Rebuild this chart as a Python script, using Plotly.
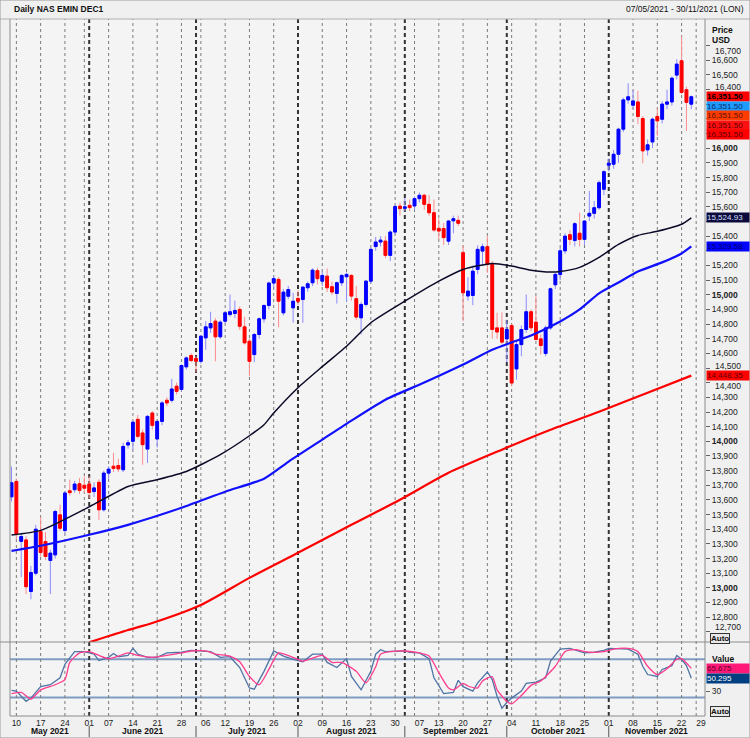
import plotly.graph_objects as go
import pandas as pd

FONT = "Liberation Sans"
FS = 8.5

# ---------------- calendar (trading days shown on the axis) ----------------
holidays = ["2021-05-31", "2021-07-05", "2021-09-06", "2021-11-25"]
axis_days = [d.strftime("%Y-%m-%d") for d in pd.bdate_range("2021-05-07", "2021-11-30")
             if d.strftime("%Y-%m-%d") not in holidays]
pos = {d: i for i, d in enumerate(axis_days)}

# ---------------- daily OHLC (NAS EMIN DEC1) ----------------
opens = [13621,13726,13317,13327,12975,13100,13384,13316,13187,13225,
         13498,13391,13662,13670,13710,13700,13708,13657,13720,13533,
         13783,13830,13835,13806,13975,14000,14150,14057,13947,14193,
         14016,14136,14280,14280,14376,14354,14508,14585,14565,14546,
         14706,14774,14820,14713,14820,14865,14872,14900,14781,14683,
         14592,14729,14836,14927,15080,15105,14877,14990,14911,14975,
         14968,15048,15082,15165,15093,15127,15055,15009,15082,15123,
         15132,14973,14843,14934,15093,15329,15360,15366,15269,15428,
         15605,15590,15610,15606,15656,15679,15617,15560,15453,15452,
         15366,15505,15508,15287,14992,14995,15173,15298,15328,15207,
         14774,14774,14699,14790,14494,14660,14763,14884,14813,14699,
         14599,14774,15068,15139,15300,15410,15370,15420,15378,15537,
         15556,15594,15720,15884,15891,15959,16130,16330,16294,16316,
         16203,15989,16043,16217,16198,16301,16316,16499,16597,16399,
         16301]
highs = [13827,13745,13375,13352,13150,13430,13483,13380,13260,13533,
         13567,13660,13738,13730,13749,13760,13760,13720,13740,13800,
         13830,13922,13880,13990,14010,14140,14180,14080,14180,14205,
         14140,14275,14300,14426,14400,14525,14580,14600,14580,14725,
         14820,14884,14840,14825,14885,15002,14960,14920,14850,14700,
         14740,14845,14935,15090,15130,15120,15040,15060,15014,15030,
         15060,15090,15180,15185,15160,15180,15090,15090,15140,15150,
         15140,15060,14950,15100,15320,15395,15400,15400,15440,15615,
         15630,15660,15650,15670,15697,15690,15680,15650,15520,15490,
         15510,15540,15540,15337,15120,15200,15337,15350,15400,15230,
         14877,14880,14830,14800,14680,14790,15002,14900,14990,14730,
         14790,15050,15150,15320,15420,15440,15495,15560,15510,15708,
         15640,15780,15850,15930,15990,16140,16345,16443,16396,16392,
         16220,16060,16210,16271,16320,16399,16490,16608,16765,16420,
         16360]
lows = [13589,13330,13073,12958,12922,13085,13213,13190,12958,13200,
        13390,13370,13630,13650,13640,13650,13610,13620,13464,13520,
        13740,13790,13790,13790,13950,13943,14020,13840,13852,14080,
        13958,14110,14240,14265,14320,14340,14490,14540,14471,14530,
        14625,14740,14546,14700,14800,14850,14840,14760,14660,14444,
        14540,14700,14810,14900,15040,14778,14860,14970,14809,14930,
        14809,15020,15060,15070,15060,15020,15000,14940,15060,14950,
        14960,14830,14729,14920,15080,15300,15330,15250,15230,15410,
        15540,15570,15570,15580,15630,15580,15540,15430,15380,15340,
        15340,15420,15470,14820,14960,14929,15140,15200,15150,14700,
        14700,14660,14539,14376,14421,14580,14740,14750,14690,14592,
        14580,14760,15040,15100,15280,15340,15330,15330,15340,15503,
        15520,15580,15680,15840,15860,15900,16110,16303,16267,16164,
        15897,15950,16000,16084,16170,16267,16290,16470,16370,16118,
        16267]
closes = [13717,13367,13350,13008,13105,13400,13241,13214,13237,13521,
          13407,13647,13650,13708,13665,13680,13651,13682,13533,13783,
          13810,13815,13812,13965,13990,14130,14034,13977,14170,14109,
          14136,14262,14262,14357,14341,14517,14569,14551,14546,14717,
          14781,14804,14713,14813,14877,14884,14893,14785,14672,14546,
          14729,14836,14927,15080,15110,14956,15018,15036,14956,14956,
          15052,15075,15168,15110,15132,15048,15019,15082,15132,15139,
          14991,14848,14934,15093,15310,15360,15373,15269,15428,15602,
          15588,15600,15595,15656,15679,15617,15560,15442,15435,15390,
          15503,15519,15488,15014,15025,15161,15310,15328,15207,14763,
          14746,14677,14763,14398,14660,14763,14884,14775,14695,14654,
          14774,15041,15139,15300,15400,15378,15485,15378,15503,15556,
          15594,15765,15840,15898,15959,16130,16330,16351,16323,16217,
          15982,16023,16198,16187,16301,16316,16478,16574,16381,16313,
          16351.5]
candle_dates = axis_days[:len(opens)]

# ---------------- moving averages (read at sample dates) ----------------
ma_black_dates = ["2021-05-07","2021-05-17","2021-06-01","2021-06-11","2021-06-21","2021-06-29",
                  "2021-07-09","2021-07-19","2021-07-22","2021-07-26","2021-08-02","2021-08-09",
                  "2021-08-16","2021-08-23","2021-09-01","2021-09-13","2021-09-20","2021-09-28",
                  "2021-10-04","2021-10-08","2021-10-14","2021-10-18","2021-10-22","2021-10-28",
                  "2021-11-03","2021-11-09","2021-11-15","2021-11-22","2021-11-24"]
ma_black = [13360,13392,13553,13692,13738,13794,13909,14038,14113,14193,14366,14510,
            14649,14809,14956,15093,15173,15214,15196,15168,15155,15159,15187,15255,
            15344,15405,15433,15481,15524.93]
ma_blue_dates = ["2021-05-07","2021-05-17","2021-06-01","2021-06-11","2021-06-28","2021-07-12",
                 "2021-07-22","2021-07-29","2021-08-09","2021-08-17","2021-08-26","2021-09-08",
                 "2021-09-20","2021-09-28","2021-10-04","2021-10-08","2021-10-18","2021-10-22",
                 "2021-10-28","2021-11-03","2021-11-09","2021-11-16","2021-11-22","2021-11-24"]
ma_blue = [13252,13287,13362,13430,13546,13656,13745,13860,14011,14141,14284,14401,
           14524,14625,14675,14722,14818,14900,15010,15084,15159,15221,15282,15329.58]
ma_red_dates = ["2021-06-01","2021-06-11","2021-06-18","2021-07-02","2021-07-19","2021-08-02",
                "2021-08-17","2021-08-31","2021-09-15","2021-09-30","2021-10-14","2021-10-28",
                "2021-11-11","2021-11-24"]
ma_red = [12628,12712,12760,12883,13068,13239,13430,13601,13785,13943,14079,14202,14332,14448.35]

# ---------------- stochastic oscillator (read at sample dates) ----------------
k_idx = [0,1,3,4,6,8,10,11,13,15,17,18,20,21,22,24,25,26,28,30,32,35,37,39,41,43,45,47,49,50,
         52,54,56,58,60,62,64,65,67,69,70,72,74,75,76,77,79,81,82,84,86,87,89,91,92,93,95,96,98,99,
         100,101,102,103,105,106,108,110,111,113,115,116,118,120,122,123,125,127,129,130,131,133,
         134,136,137,138,139,140]
k_vals = [31,30,14,19,37,40,51,72,92,92,88,78,83,89,84,86,97,88,83,83,90,91,94,93,92,83,84,67,35,33,
          61,93,85,80,76,88,88,75,67,81,53,32,61,88,95,92,92,93,91,90,81,51,26,28,47,37,30,43,60,48,
          22,3,12,19,30,42,44,51,77,96,97,95,90,91,94,97,96,96,88,69,56,53,
          64,70,86,80,70,50.295]
d_idx = [0,2,4,6,9,11,12,14,16,18,20,22,24,26,29,32,35,37,40,42,45,47,49,51,53,55,58,60,64,66,
         68,71,73,75,76,78,81,84,86,88,90,91,93,94,96,97,99,100,102,103,105,107,109,112,114,116,
         119,122,124,127,129,131,133,135,137,138,140]
d_vals = [26,28,17.5,32,40,48,75,90,92,86,81,85,90,86,83,86,90,93,93,88,85,76,53,40,64,90,83,77,86,75,
          75,61,43,68,88,92,93,90,85,59,35,32,42,38,35,46,52.5,32,14,10,23,39,46,69,92,95,
          91,92,96,97,92,69,56,65,80,81,65.675]

# ---------------- axis labels ----------------
tick_dates = ["2021-05-10","2021-05-17","2021-05-24","2021-06-01","2021-06-07","2021-06-14","2021-06-21",
              "2021-06-28","2021-07-06","2021-07-12","2021-07-19","2021-07-26","2021-08-02","2021-08-09",
              "2021-08-16","2021-08-23","2021-08-30","2021-09-07","2021-09-13","2021-09-20","2021-09-27",
              "2021-10-04","2021-10-11","2021-10-18","2021-10-25","2021-11-01","2021-11-08","2021-11-15",
              "2021-11-22","2021-11-29"]
tick_text = [d[-2:] for d in tick_dates]
week_line_dates = ["2021-05-10","2021-05-17","2021-05-24","2021-05-28","2021-06-07","2021-06-14",
                   "2021-06-21","2021-06-28","2021-07-02","2021-07-12","2021-07-19","2021-07-26",
                   "2021-08-09","2021-08-16","2021-08-23","2021-08-30","2021-09-03","2021-09-13",
                   "2021-09-20","2021-09-27","2021-10-04","2021-10-11","2021-10-18","2021-10-25",
                   "2021-11-08","2021-11-15","2021-11-22","2021-11-26"]
month_start_dates = ["2021-06-01","2021-07-01","2021-08-02","2021-09-01","2021-10-01","2021-11-01"]
month_names = ["May 2021","June 2021","July 2021","August 2021","September 2021","October 2021","November 2021"]
price_ticks = list(range(12700, 16701, 100))
# tick labels hidden behind the value boxes on the price scale (tick marks stay)
price_ticks_hidden = [16300, 16200, 16100, 15500, 15300]
# tick labels nudged clear of neighbouring captions (value -> pixel row of the label)
price_ticks_nudged = {16700: 51, 16400: 87, 14500: 366, 14400: 386, 12700: 627}

# ---------------- geometry (pixels of the 750x738 page) ----------------
W, H = 750, 738
X_LEFT, X_RIGHT = 10, 705
Y_TOP, Y_MAIN_BOT, Y_OSC_BOT = 19, 642, 716
XR = [-0.31, 142.82]
py = lambda px: 1 - px / H
px_ = lambda p: p / W

fig = go.Figure()

x_c = [pos[d] for d in candle_dates]
fig.add_trace(go.Candlestick(
    x=x_c, open=opens, high=highs, low=lows, close=closes,
    increasing=dict(line=dict(color="#8c8cff", width=1), fillcolor="#8c8cff"),
    decreasing=dict(line=dict(color="#ff8c8c", width=1), fillcolor="#ff8c8c"),
    whiskerwidth=0, hoverinfo="skip", showlegend=False))
fig.add_trace(go.Candlestick(
    x=x_c, open=opens, close=closes,
    high=[max(o, c) for o, c in zip(opens, closes)],
    low=[min(o, c) for o, c in zip(opens, closes)],
    increasing=dict(line=dict(color="#0000ff", width=1), fillcolor="#0000ff"),
    decreasing=dict(line=dict(color="#ff0000", width=1), fillcolor="#ff0000"),
    whiskerwidth=0, hoverinfo="skip", showlegend=False))

for dates, vals, col, wd in [(ma_red_dates, ma_red, "#ff0000", 2.2),
                             (ma_blue_dates, ma_blue, "#1010ff", 2.2),
                             (ma_black_dates, ma_black, "#0a0a28", 1.5)]:
    fig.add_trace(go.Scatter(x=[pos[d] for d in dates], y=vals, mode="lines",
                             line=dict(color=col, width=wd, shape="spline", smoothing=0.6),
                             hoverinfo="skip", showlegend=False))

fig.add_trace(go.Scatter(x=k_idx, y=k_vals, mode="lines", yaxis="y2",
                         line=dict(color="#4f74a6", width=1.3), hoverinfo="skip", showlegend=False))
fig.add_trace(go.Scatter(x=d_idx, y=d_vals, mode="lines", yaxis="y2",
                         line=dict(color="#ff3d8e", width=1.3, shape="spline", smoothing=0.6),
                         hoverinfo="skip", showlegend=False))

shapes = []
for lv in [80, 20]:
    shapes.append(dict(type="line", xref="paper", yref="y2", x0=px_(X_LEFT), x1=px_(X_RIGHT), y0=lv, y1=lv,
                       line=dict(color="#7f9cc2", width=2), layer="below"))
for d in week_line_dates:
    shapes.append(dict(type="line", xref="x", yref="paper", x0=pos[d], x1=pos[d],
                       y0=py(Y_OSC_BOT), y1=py(Y_TOP), line=dict(color="#7a7a7a", width=1, dash="dot"),
                       layer="below"))
for d in month_start_dates:
    shapes.append(dict(type="line", xref="x", yref="paper", x0=pos[d], x1=pos[d],
                       y0=py(Y_OSC_BOT), y1=py(Y_TOP), line=dict(color="#333333", width=2, dash="4px,3px"),
                       layer="below"))
    shapes.append(dict(type="line", xref="x", yref="paper", x0=pos[d], x1=pos[d],
                       y0=py(737), y1=py(726), line=dict(color="#555555", width=1)))
shapes += [
    dict(type="line", xref="paper", yref="paper", x0=0, x1=1, y0=py(Y_MAIN_BOT), y1=py(Y_MAIN_BOT),
         line=dict(color="#8c8c8c", width=1)),
    dict(type="line", xref="paper", yref="paper", x0=px_(X_LEFT), x1=px_(X_RIGHT), y0=py(Y_OSC_BOT), y1=py(Y_OSC_BOT),
         line=dict(color="#8c8c8c", width=1)),
    dict(type="line", xref="paper", yref="paper", x0=0, x1=1, y0=py(Y_TOP), y1=py(Y_TOP),
         line=dict(color="#b0b0b0", width=1)),
    dict(type="line", xref="paper", yref="paper", x0=px_(X_LEFT), x1=px_(X_LEFT), y0=py(Y_OSC_BOT), y1=py(Y_TOP),
         line=dict(color="#8c8c8c", width=1)),
    dict(type="line", xref="paper", yref="paper", x0=px_(X_RIGHT), x1=px_(X_RIGHT), y0=py(Y_OSC_BOT), y1=py(Y_TOP),
         line=dict(color="#8c8c8c", width=1)),
    dict(type="rect", xref="paper", yref="paper", x0=0, x1=1, y0=0, y1=1,
         line=dict(color="#9a9a9a", width=1)),
]

def fmt_tick(v):
    if v in price_ticks_hidden or v in price_ticks_nudged:
        return ""
    return ("<b>%s</b>" % f"{v:,}") if v % 1000 == 0 else f"{v:,}"
price_text = [fmt_tick(v) for v in price_ticks]

fig.update_layout(
    width=W, height=H, margin=dict(l=0, r=0, t=0, b=0),
    paper_bgcolor="#f0f0f0", plot_bgcolor="#f4f4f4",
    font=dict(family=FONT, size=FS, color="#222222"),
    boxgap=0.18,
    shapes=shapes,
    xaxis=dict(domain=[px_(X_LEFT), px_(X_RIGHT)], range=XR, anchor="y2",
               tickvals=[pos[d] for d in tick_dates], ticktext=tick_text, ticks="",
               showgrid=False, zeroline=False, showline=False,
               rangeslider=dict(visible=False), tickfont=dict(size=FS, color="#222")),
    yaxis=dict(domain=[py(Y_MAIN_BOT), py(Y_TOP)], range=[12630.4, 16882], anchor="x", side="right",
               tickvals=price_ticks, ticktext=price_text, ticks="outside", ticklen=4, tickcolor="#666",
               showgrid=False, zeroline=False, showline=False, tickfont=dict(size=FS, color="#222")),
    yaxis2=dict(domain=[py(Y_OSC_BOT), py(Y_MAIN_BOT)], range=[-9.1, 107.1], anchor="x", side="right",
                tickvals=[30], ticktext=["30"], ticks="outside", ticklen=4, tickcolor="#666",
                showgrid=False, zeroline=False, showline=False, tickfont=dict(size=FS, color="#222")),
)

ann = []
def text_at(x, y, t, size=FS, bold=False, anchor="left", color="#111"):
    ann.append(dict(x=px_(x), y=py(y), xref="paper", yref="paper", xanchor=anchor, yanchor="middle",
                    text=("<b>%s</b>" % t) if bold else t, showarrow=False,
                    font=dict(size=size, color=color, family=FONT)))

text_at(12, 9, "Daily NAS EMIN DEC1", bold=True)
text_at(746, 9, "07/05/2021 - 30/11/2021 (LON)", anchor="right")
text_at(710, 30, "Price", bold=True)
text_at(710, 40, "USD", bold=True)
text_at(710, 659, "Value", bold=True)
for v, yy in price_ticks_nudged.items():
    text_at(713, yy, f"{v:,}", color="#222")

def label_box(val, yref, bg, fg, shift=0, bold=False, fmt="{:,.2f}"):
    t = fmt.format(val)
    ann.append(dict(x=px_(706), xref="paper", xanchor="left", y=val, yref=yref, yanchor="middle",
                    yshift=shift, text=("<b>%s</b>" % t) if bold else t, showarrow=False,
                    bgcolor=bg, width=42, height=9, align="left", borderpad=0,
                    font=dict(size=8, color=fg, family=FONT)))

last_close = closes[-1]
label_box(last_close, "y", "#ff0000", "#000000", 0, bold=True)
label_box(last_close, "y", "#1e9bff", "#0a2a66", -9.5)
label_box(last_close, "y", "#ff3c00", "#5a1000", -19)
label_box(last_close, "y", "#ff1010", "#5a0000", -28.5)
label_box(last_close, "y", "#ff0000", "#5a0000", -38)
label_box(ma_black[-1], "y", "#0a0a3c", "#dde0ff")
label_box(ma_blue[-1], "y", "#0000ff", "#000060")
label_box(ma_red[-1], "y", "#ff0000", "#600000")
label_box(d_vals[-1], "y2", "#ff1a7a", "#600020", fmt="{:.3f}")
label_box(k_vals[-1], "y2", "#003f80", "#ffffff", fmt="{:.3f}")

for yy in [638, 711]:
    ann.append(dict(x=px_(710), y=py(yy), xref="paper", yref="paper", xanchor="left", yanchor="middle",
                    text="<b>Auto</b>", showarrow=False, bordercolor="#333", borderwidth=1, borderpad=0,
                    bgcolor="#e8e8e8", font=dict(size=8, color="#111", family=FONT)))

bounds = [XR[0]] + [pos[d] for d in month_start_dates] + [XR[1]]
for i, name in enumerate(month_names):
    xm = (bounds[i] + bounds[i + 1]) / 2
    ann.append(dict(x=xm, xref="x", y=py(731), yref="paper", xanchor="center", yanchor="middle",
                    text="<b>%s</b>" % name, showarrow=False, font=dict(size=FS, color="#111", family=FONT)))

fig.update_layout(annotations=ann)
fig.write_html("out.html")
